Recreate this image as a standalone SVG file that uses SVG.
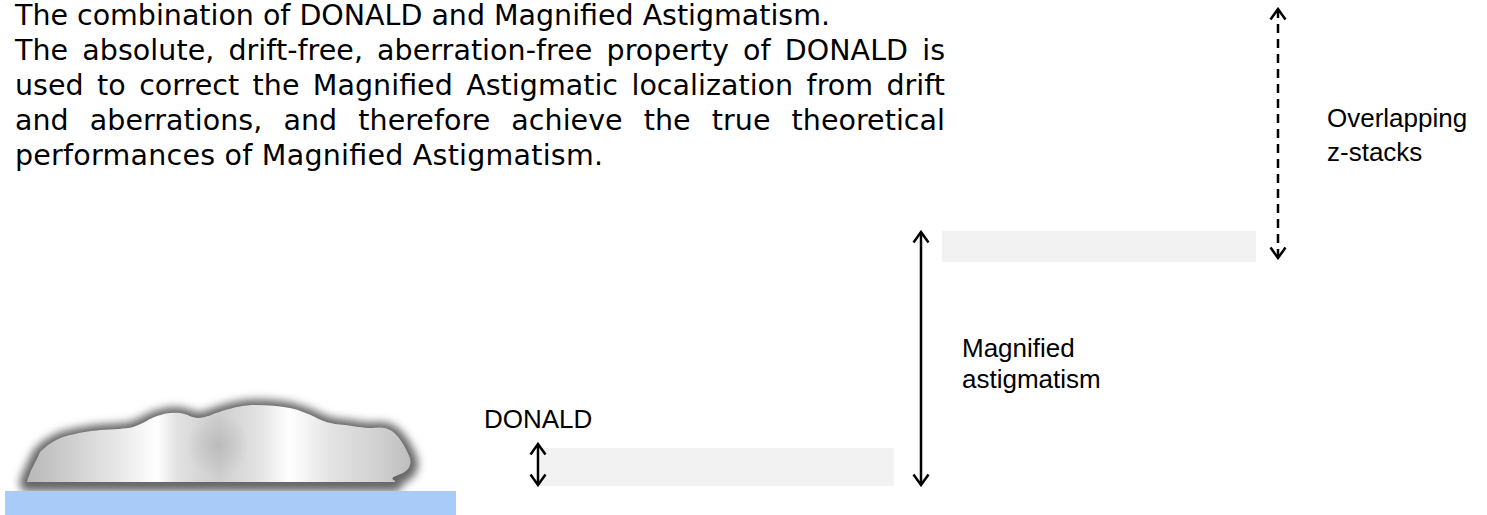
<svg xmlns="http://www.w3.org/2000/svg" width="1487" height="515" viewBox="0 0 1487 515">
  <style>
    .para { font-family: "DejaVu Sans", "Liberation Sans", sans-serif; font-size: 28.5px; fill: #000; }
    .label { font-family: "Liberation Sans", Arial, sans-serif; font-size: 26px; fill: #000; }
    .bar { fill: #f2f2f2; }
    .conn { stroke: #000; stroke-width: 2.5; fill: none; }
    .dash { stroke-dasharray: 9 6; }
  </style>
  <defs>
    <marker id="chev" viewBox="0 0 14 18" refX="12" refY="9" markerWidth="14" markerHeight="18" markerUnits="userSpaceOnUse" orient="auto-start-reverse">
      <path d="M1.5,1.5 L12,9 L1.5,16.5" fill="none" stroke="#000" stroke-width="2.5"/>
    </marker>
    <linearGradient id="cellFill" x1="27" y1="0" x2="410" y2="0" gradientUnits="userSpaceOnUse">
      <stop offset="0" stop-color="#b8b8b8"/>
      <stop offset="0.09" stop-color="#cacaca"/>
      <stop offset="0.24" stop-color="#e8e8e8"/>
      <stop offset="0.34" stop-color="#ffffff"/>
      <stop offset="0.39" stop-color="#e2e2e2"/>
      <stop offset="0.5" stop-color="#cecece"/>
      <stop offset="0.61" stop-color="#e4e4e4"/>
      <stop offset="0.685" stop-color="#ffffff"/>
      <stop offset="0.79" stop-color="#e4e4e4"/>
      <stop offset="0.92" stop-color="#d0d0d0"/>
      <stop offset="1" stop-color="#bebebe"/>
    </linearGradient>
    <radialGradient id="cellSpot" cx="218" cy="445" r="32" gradientUnits="userSpaceOnUse">
      <stop offset="0" stop-color="#b4b4b4" stop-opacity="0.7"/>
      <stop offset="1" stop-color="#b4b4b4" stop-opacity="0"/>
    </radialGradient>
    <filter id="halo" x="-10%" y="-50%" width="120%" height="200%">
      <feGaussianBlur stdDeviation="4.5"/>
    </filter>
    <path id="cellShape" d="M27,482 C30,470 36,462 40,452 C48,444 55,440 63,437 C80,432 92,431 100,430 C115,429 125,429 133,427 C143,424 150,418 157,416 C165,413 172,412 180,413 C188,414 192,418 198,418 C206,418 212,414 222,411 C235,407 245,405 255,405 C268,405 280,406 290,408 C300,410 308,414 315,417 C322,421 330,424 345,425 C355,426 362,428 372,428 C380,427 386,427 392,431 C400,437 406,448 410,458 C412,466 408,472 398,475 C393,477 390,478 395,481 L395,482 Z"/>
  </defs>

  <!-- Description paragraph (justified lines use word spacing) -->
  <g id="description">
    <text class="para" x="15" y="25" textLength="815" lengthAdjust="spacing">The combination of DONALD and Magnified Astigmatism.</text>
    <text class="para" x="15" y="60" word-spacing="5" textLength="930" lengthAdjust="spacing">The absolute, drift-free, aberration-free property of DONALD is</text>
    <text class="para" x="15" y="95" word-spacing="4.3" textLength="930" lengthAdjust="spacing">used to correct the Magnified Astigmatic localization from drift</text>
    <text class="para" x="15" y="130" word-spacing="12" textLength="930" lengthAdjust="spacing">and aberrations, and therefore achieve the true theoretical</text>
    <text class="para" x="15" y="165" textLength="588" lengthAdjust="spacing">performances of Magnified Astigmatism.</text>
  </g>

  <!-- Cell resting on the coverslip -->
  <g id="cell">
    <use href="#cellShape" fill="#666" stroke="#666" stroke-width="15" stroke-linejoin="round" filter="url(#halo)" transform="translate(0,2)"/>
    <use href="#cellShape" fill="url(#cellFill)"/>
    <use href="#cellShape" fill="url(#cellSpot)"/>
  </g>
  <g id="coverslip">
    <rect x="5" y="491" width="451" height="24" fill="#a9cbf8"/>
  </g>

  <!-- Axial ranges -->
  <g id="donald-range">
    <rect class="bar" x="540" y="448" width="354" height="38"/>
    <text class="label" x="484" y="428">DONALD</text>
  </g>
  <g id="astigmatism-range">
    <rect class="bar" x="942" y="231" width="314" height="31"/>
    <text class="label" x="962" y="357">Magnified</text>
    <text class="label" x="962" y="388">astigmatism</text>
  </g>
  <g id="zstack-label">
    <text class="label" x="1327" y="127">Overlapping</text>
    <text class="label" x="1327" y="161">z-stacks</text>
  </g>

  <!-- Connectors -->
  <g id="connectors">
    <line class="conn" x1="538" y1="444" x2="538" y2="485" marker-start="url(#chev)" marker-end="url(#chev)"/>
    <line class="conn" x1="921" y1="232" x2="921" y2="485" marker-start="url(#chev)" marker-end="url(#chev)"/>
    <line class="conn dash" x1="1278" y1="9" x2="1278" y2="258" marker-start="url(#chev)" marker-end="url(#chev)"/>
  </g>
</svg>
